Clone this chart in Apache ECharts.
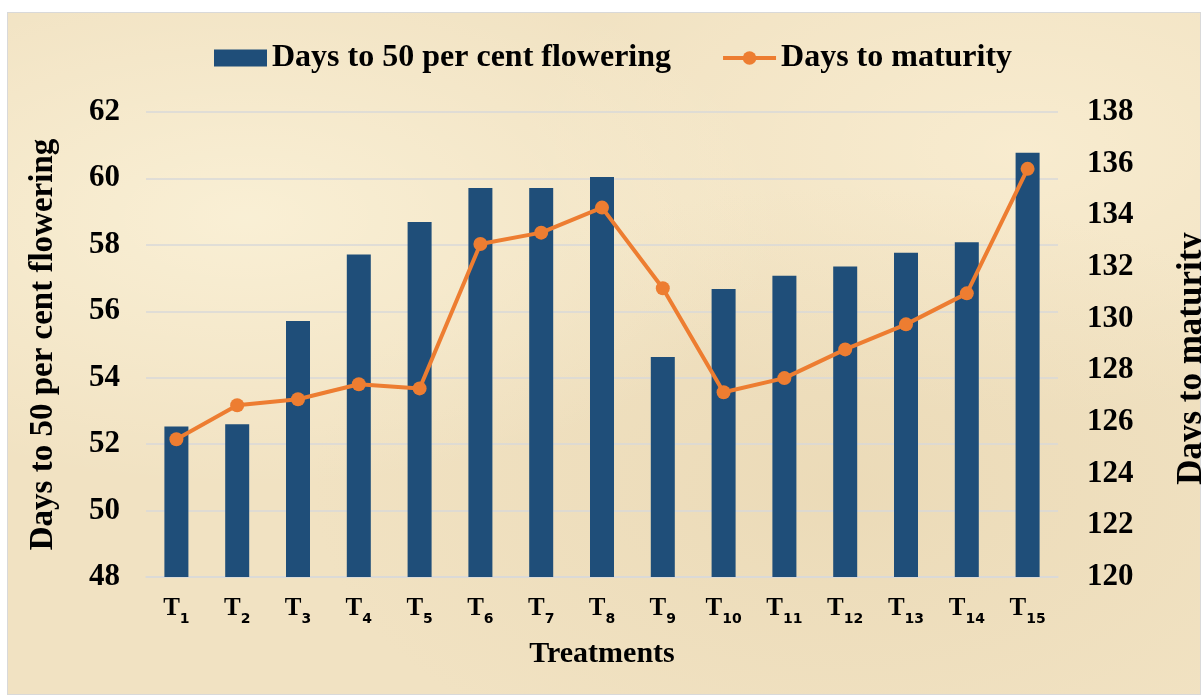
<!DOCTYPE html>
<html>
<head>
<meta charset="utf-8">
<script src="https://cdn.jsdelivr.net/npm/echarts@6/dist/echarts.min.js"></script>
<style>
    html, body { margin: 0; padding: 0; background: #fff; }
    .panel {
        position: absolute; left: 7px; top: 12px; width: 1194px; height: 683px;
        box-sizing: border-box; border: 1px solid #d9d9d9;
        background-color: #f1e2c2;
        background-image:
            radial-gradient(ellipse at 20% 30%, rgba(255,248,225,0.6), rgba(255,248,225,0) 40%),
            radial-gradient(ellipse at 70% 70%, rgba(225,205,165,0.35), rgba(225,205,165,0) 45%),
            radial-gradient(ellipse at 85% 20%, rgba(255,245,220,0.5), rgba(255,245,220,0) 35%);
    }
    .echart { position: absolute; left: 0; top: 0; width: 1201px; height: 695px; }
</style>
</head>
<body>
<div class="panel"></div>
<div id="chart" class="echart"></div>
<script>
const categories = ['T1', 'T2', 'T3', 'T4', 'T5', 'T6', 'T7', 'T8', 'T9', 'T10', 'T11', 'T12', 'T13', 'T14', 'T15'];
const flowering = [52.53, 52.6, 55.71, 57.71, 58.69, 59.71, 59.71, 60.04, 54.62, 56.67, 57.07, 57.35, 57.76, 58.08, 60.77];
const maturity = [125.33, 126.65, 126.88, 127.46, 127.3, 132.89, 133.33, 134.3, 131.18, 127.15, 127.7, 128.81, 129.78, 130.98, 135.8];
const leftTicks = [48, 62, 2];
const rightTicks = [120, 138, 2];

const serif = '"Liberation Serif", "Times New Roman", serif';
const myChart = echarts.init(document.getElementById('chart'));

const option = {
    backgroundColor: 'transparent',
    textStyle: { fontFamily: serif, color: '#000' },
    legend: {
        top: 37,
        left: 209,
        itemGap: 50,
        itemWidth: 53,
        itemHeight: 17,
        textStyle: { fontFamily: serif, fontWeight: 'bold', fontSize: 32, color: '#000' },
        data: [
            { name: 'Days to 50 per cent flowering', icon: 'rect' },
            { name: 'Days to maturity', lineStyle: { width: 4 }, itemStyle: { color: '#ed7d31' } }
        ]
    },
    grid: {
        left: 146,
        right: 143,
        top: 112,
        bottom: 118,
        outerBoundsMode: 'none'
    },
    xAxis: {
        type: 'category',
        data: categories,
        name: 'Treatments',
        nameLocation: 'middle',
        nameGap: 62,
        nameTextStyle: { fontFamily: serif, fontWeight: 'bold', fontSize: 30, color: '#000' },
        axisLine: { show: true, lineStyle: { color: '#d9d9d9', width: 1.5 } },
        axisTick: { show: false },
        axisLabel: {
            interval: 0,
            margin: 18,
            formatter: function (v) {
                return '{t|T}{s|' + v.slice(1) + '}';
            },
            rich: {
                t: { fontFamily: serif, fontWeight: 'bold', fontSize: 25, color: '#000', verticalAlign: 'bottom', lineHeight: 26 },
                s: { fontFamily: '"DejaVu Sans", sans-serif', fontWeight: 'bold', fontSize: 14, color: '#000', verticalAlign: 'bottom', lineHeight: 26, padding: [0, 0, -5, 0] }
            }
        }
    },
    yAxis: [
        {
            type: 'value',
            min: leftTicks[0],
            max: leftTicks[1],
            interval: leftTicks[2],
            name: 'Days to 50 per cent flowering',
            nameLocation: 'middle',
            nameGap: 86,
            nameTextStyle: { fontFamily: serif, fontWeight: 'bold', fontSize: 33, color: '#000' },
            axisLine: { show: false },
            axisTick: { show: false },
            axisLabel: { margin: 26, fontFamily: serif, fontWeight: 'bold', fontSize: 31, color: '#000' },
            splitLine: { show: true, lineStyle: { color: '#d9d9d9', width: 1.5 } }
        },
        {
            type: 'value',
            min: rightTicks[0],
            max: rightTicks[1],
            interval: rightTicks[2],
            name: 'Days to maturity',
            nameLocation: 'middle',
            nameGap: 116,
            nameTextStyle: { fontFamily: serif, fontWeight: 'bold', fontSize: 35, color: '#000', padding: [0, 28, 0, 0] },
            axisLine: { show: false },
            axisTick: { show: false },
            axisLabel: { margin: 29, fontFamily: serif, fontWeight: 'bold', fontSize: 31, color: '#000' },
            splitLine: { show: false }
        }
    ],
    series: [
        {
            name: 'Days to 50 per cent flowering',
            type: 'bar',
            yAxisIndex: 0,
            barWidth: 24,
            itemStyle: { color: '#1f4e79' },
            data: flowering
        },
        {
            name: 'Days to maturity',
            type: 'line',
            yAxisIndex: 1,
            symbol: 'circle',
            symbolSize: 14,
            lineStyle: { color: '#ed7d31', width: 4 },
            itemStyle: { color: '#ed7d31' },
            data: maturity
        }
    ]
};

myChart.setOption(option);
</script>
</body>
</html>
